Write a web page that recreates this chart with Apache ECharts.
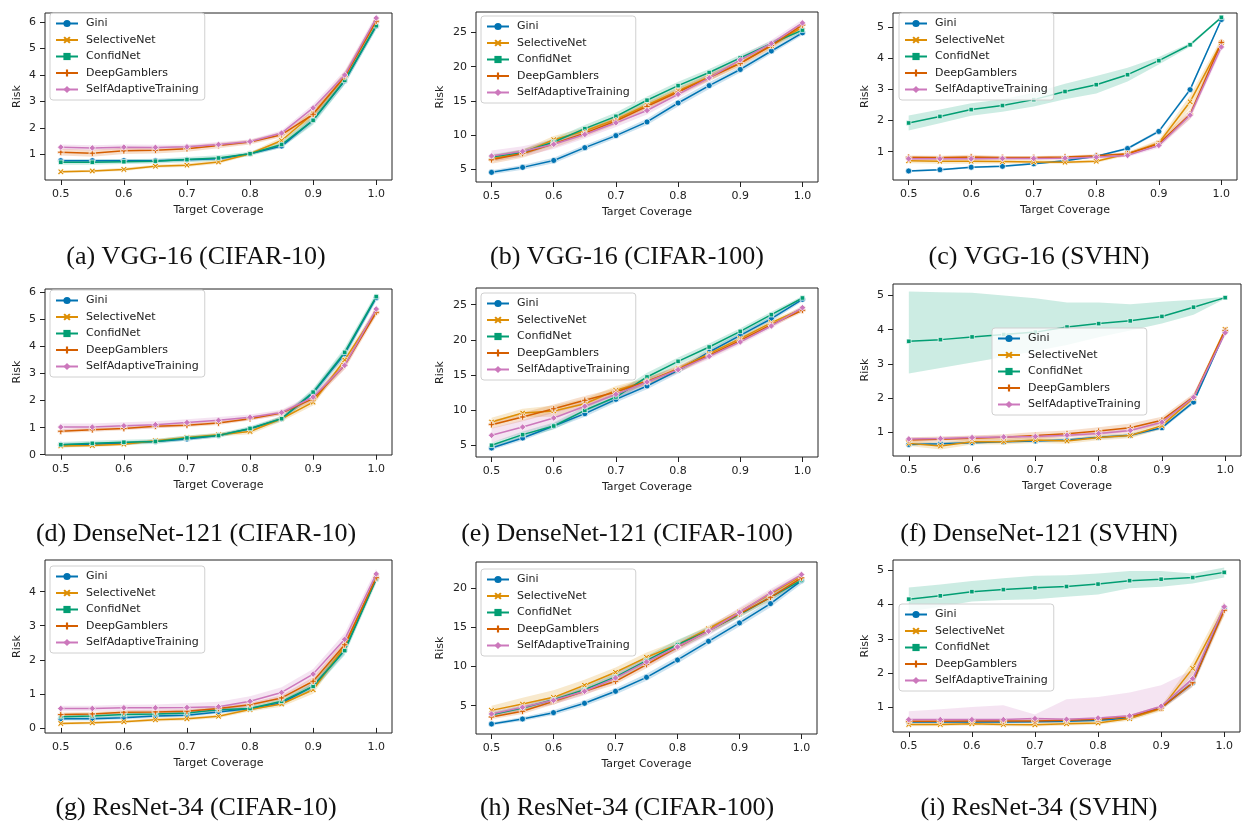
<!DOCTYPE html>
<html>
<head>
<meta charset="utf-8">
<script src="https://cdn.jsdelivr.net/npm/echarts@6/dist/echarts.min.js"></script>
<style>
  html, body { margin: 0; padding: 0; background: #fff; }
  #myChart { width: 1245px; height: 827px; }
</style>
</head>
<body>
<div id="myChart"></div>
<script>
// x values shared by every panel
var coverage = [0.5, 0.55, 0.6, 0.65, 0.7, 0.75, 0.8, 0.85, 0.9, 0.95, 1.0];
var xTicks = [0.5, 0.6, 0.7, 0.8, 0.9, 1.0];
var methods = ['Gini', 'SelectiveNet', 'ConfidNet', 'DeepGamblers', 'SelfAdaptiveTraining'];
var captions = [
    '(a) VGG-16 (CIFAR-10)', '(b) VGG-16 (CIFAR-100)', '(c) VGG-16 (SVHN)',
    '(d) DenseNet-121 (CIFAR-10)', '(e) DenseNet-121 (CIFAR-100)', '(f) DenseNet-121 (SVHN)',
    '(g) ResNet-34 (CIFAR-10)', '(h) ResNet-34 (CIFAR-100)', '(i) ResNet-34 (SVHN)'
];

// risk per panel, rows in the order of methods
var riskA = [
    [0.77, 0.77, 0.77, 0.77, 0.8, 0.84, 1.03, 1.32, 2.3, 3.78, 5.85],
    [0.35, 0.38, 0.44, 0.56, 0.6, 0.72, 1.03, 1.53, 2.54, 3.94, 6.06],
    [0.71, 0.71, 0.73, 0.75, 0.81, 0.87, 1.03, 1.38, 2.29, 3.8, 5.86],
    [1.09, 1.05, 1.14, 1.16, 1.22, 1.34, 1.47, 1.75, 2.52, 3.94, 6.03],
    [1.28, 1.25, 1.28, 1.27, 1.29, 1.38, 1.49, 1.81, 2.76, 4.0, 6.15]
];
var riskB = [
    [4.56, 5.29, 6.3, 8.17, 9.93, 11.93, 14.7, 17.24, 19.6, 22.3, 24.95],
    [6.56, 7.4, 9.34, 10.6, 12.3, 14.4, 16.5, 18.5, 20.56, 23.1, 25.8],
    [6.8, 7.5, 9.0, 10.95, 12.75, 15.1, 17.24, 19.15, 21.3, 23.4, 25.35],
    [6.4, 7.3, 8.75, 10.3, 12.07, 14.2, 16.3, 18.4, 20.5, 23.1, 26.1],
    [6.95, 7.63, 8.66, 10.1, 11.8, 13.6, 15.97, 18.37, 21.0, 23.4, 26.4]
];
var riskC = [
    [0.38, 0.42, 0.5, 0.53, 0.61, 0.71, 0.85, 1.1, 1.65, 2.99, 5.24],
    [0.71, 0.69, 0.69, 0.68, 0.67, 0.66, 0.69, 0.93, 1.28, 2.6, 4.49],
    [1.92, 2.13, 2.35, 2.48, 2.67, 2.93, 3.15, 3.47, 3.92, 4.43, 5.31],
    [0.82, 0.81, 0.83, 0.81, 0.81, 0.83, 0.87, 0.93, 1.25, 2.2, 4.5],
    [0.77, 0.77, 0.77, 0.78, 0.78, 0.79, 0.82, 0.88, 1.2, 2.17, 4.36]
];
var riskD = [
    [0.37, 0.39, 0.43, 0.49, 0.58, 0.71, 0.96, 1.33, 2.28, 3.73, 5.8],
    [0.32, 0.34, 0.39, 0.52, 0.64, 0.74, 0.86, 1.33, 1.94, 3.5, 5.29],
    [0.37, 0.42, 0.46, 0.49, 0.62, 0.71, 0.97, 1.33, 2.31, 3.78, 5.84],
    [0.87, 0.92, 0.97, 1.05, 1.09, 1.17, 1.33, 1.54, 2.07, 3.3, 5.26],
    [1.02, 1.02, 1.07, 1.11, 1.19, 1.27, 1.38, 1.56, 2.13, 3.3, 5.38]
];
var riskE = [
    [4.62, 6.04, 7.75, 9.5, 11.54, 13.44, 15.66, 18.27, 20.64, 23.0, 25.76],
    [8.32, 9.6, 9.88, 10.92, 12.82, 14.1, 15.9, 18.03, 20.17, 22.44, 24.43],
    [5.0, 6.52, 7.75, 9.98, 11.87, 14.72, 16.94, 18.98, 21.2, 23.58, 25.95],
    [7.94, 9.03, 10.2, 11.4, 12.58, 14.1, 15.8, 17.8, 19.93, 22.16, 24.2],
    [6.42, 7.6, 8.89, 10.55, 12.25, 14.0, 15.76, 17.65, 19.7, 21.97, 24.57]
];
var riskF = [
    [0.64, 0.66, 0.69, 0.72, 0.74, 0.77, 0.85, 0.91, 1.13, 1.88, 3.95],
    [0.67, 0.59, 0.72, 0.72, 0.77, 0.74, 0.84, 0.9, 1.19, 2.0, 4.01],
    [3.66, 3.71, 3.79, 3.86, 3.93, 4.08, 4.18, 4.26, 4.39, 4.66, 4.94],
    [0.77, 0.79, 0.82, 0.85, 0.9, 0.95, 1.03, 1.13, 1.35, 2.03, 3.98],
    [0.8, 0.81, 0.84, 0.86, 0.87, 0.91, 0.96, 1.05, 1.29, 2.02, 3.91]
];
var riskG = [
    [0.27, 0.27, 0.3, 0.35, 0.37, 0.47, 0.57, 0.73, 1.22, 2.29, 4.39],
    [0.13, 0.15, 0.18, 0.24, 0.27, 0.34, 0.54, 0.7, 1.12, 2.39, 4.41],
    [0.33, 0.35, 0.39, 0.41, 0.44, 0.53, 0.57, 0.78, 1.22, 2.27, 4.37],
    [0.39, 0.41, 0.46, 0.47, 0.49, 0.57, 0.68, 0.88, 1.37, 2.44, 4.41],
    [0.57, 0.57, 0.59, 0.59, 0.6, 0.62, 0.78, 1.04, 1.58, 2.6, 4.52]
];
var riskH = [
    [2.66, 3.3, 4.11, 5.3, 6.83, 8.61, 10.82, 13.2, 15.54, 18.0, 20.94],
    [4.4, 5.2, 6.06, 7.6, 9.25, 11.16, 12.78, 14.8, 16.94, 19.24, 21.5],
    [3.85, 4.7, 5.76, 7.04, 8.65, 10.74, 12.78, 14.56, 16.6, 18.8, 21.0],
    [3.56, 4.28, 5.55, 6.83, 8.1, 10.23, 12.44, 14.56, 16.7, 18.8, 21.28],
    [3.94, 4.79, 5.68, 6.83, 8.53, 10.57, 12.48, 14.48, 16.9, 19.36, 21.7]
];
var riskI = [
    [0.58, 0.58, 0.58, 0.58, 0.59, 0.6, 0.63, 0.7, 1.0, 1.72, 3.9],
    [0.51, 0.51, 0.53, 0.51, 0.5, 0.53, 0.55, 0.68, 0.97, 2.14, 3.88],
    [4.15, 4.25, 4.37, 4.43, 4.48, 4.52, 4.59, 4.69, 4.73, 4.78, 4.93],
    [0.6, 0.6, 0.61, 0.61, 0.61, 0.63, 0.66, 0.73, 0.99, 1.72, 3.83],
    [0.65, 0.65, 0.65, 0.65, 0.68, 0.66, 0.7, 0.76, 1.04, 1.84, 3.93]
];

// half width of the shaded band, same layout as the risk arrays
var spreadA = [
    [0.06, 0.06, 0.06, 0.06, 0.06, 0.06, 0.05, 0.07, 0.12, 0.14, 0.12],
    [0.05, 0.05, 0.06, 0.06, 0.07, 0.07, 0.06, 0.12, 0.17, 0.17, 0.14],
    [0.09, 0.09, 0.09, 0.09, 0.1, 0.1, 0.08, 0.12, 0.17, 0.17, 0.14],
    [0.13, 0.13, 0.12, 0.12, 0.11, 0.1, 0.09, 0.1, 0.14, 0.17, 0.14],
    [0.1, 0.1, 0.1, 0.1, 0.09, 0.09, 0.08, 0.1, 0.14, 0.17, 0.14]
];
var spreadB = [
    [0.3, 0.35, 0.4, 0.4, 0.4, 0.45, 0.5, 0.5, 0.45, 0.4, 0.35],
    [0.5, 0.5, 0.55, 0.5, 0.5, 0.5, 0.5, 0.5, 0.45, 0.45, 0.45],
    [0.4, 0.4, 0.5, 0.55, 0.55, 0.55, 0.55, 0.5, 0.45, 0.4, 0.35],
    [0.6, 0.6, 0.6, 0.55, 0.55, 0.55, 0.5, 0.5, 0.45, 0.45, 0.4],
    [0.8, 0.75, 0.7, 0.6, 0.6, 0.6, 0.55, 0.5, 0.5, 0.5, 0.5]
];
var spreadC = [
    [0.03, 0.03, 0.03, 0.03, 0.03, 0.03, 0.03, 0.04, 0.05, 0.06, 0.05],
    [0.08, 0.08, 0.08, 0.06, 0.06, 0.05, 0.05, 0.06, 0.1, 0.2, 0.15],
    [0.24, 0.22, 0.2, 0.2, 0.22, 0.25, 0.28, 0.22, 0.12, 0.06, 0.03],
    [0.06, 0.06, 0.07, 0.05, 0.05, 0.05, 0.05, 0.05, 0.08, 0.15, 0.12],
    [0.05, 0.05, 0.05, 0.05, 0.05, 0.05, 0.05, 0.05, 0.08, 0.12, 0.12]
];
var spreadD = [
    [0.06, 0.06, 0.06, 0.06, 0.06, 0.06, 0.06, 0.07, 0.12, 0.14, 0.12],
    [0.05, 0.05, 0.06, 0.06, 0.07, 0.07, 0.1, 0.1, 0.12, 0.14, 0.14],
    [0.1, 0.1, 0.09, 0.09, 0.09, 0.08, 0.08, 0.1, 0.14, 0.17, 0.14],
    [0.07, 0.07, 0.07, 0.07, 0.07, 0.07, 0.07, 0.08, 0.12, 0.14, 0.14],
    [0.13, 0.13, 0.13, 0.13, 0.12, 0.12, 0.11, 0.1, 0.12, 0.14, 0.14]
];
var spreadE = [
    [0.3, 0.35, 0.4, 0.45, 0.45, 0.45, 0.45, 0.4, 0.4, 0.35, 0.3],
    [0.6, 0.6, 0.8, 0.7, 0.6, 0.5, 0.45, 0.4, 0.4, 0.35, 0.3],
    [0.4, 0.45, 0.5, 0.55, 0.6, 0.6, 0.55, 0.5, 0.45, 0.4, 0.3],
    [0.6, 0.6, 0.6, 0.6, 0.55, 0.5, 0.45, 0.4, 0.4, 0.35, 0.3],
    [1.0, 1.0, 0.9, 0.7, 0.6, 0.5, 0.45, 0.4, 0.4, 0.35, 0.3]
];
var spreadF = [
    [0.04, 0.04, 0.04, 0.04, 0.04, 0.04, 0.05, 0.05, 0.05, 0.06, 0.06],
    [0.08, 0.1, 0.08, 0.08, 0.09, 0.08, 0.08, 0.08, 0.1, 0.1, 0.08],
    [0, 0, 0, 0, 0, 0, 0, 0, 0, 0, 0],
    [0.08, 0.08, 0.08, 0.09, 0.1, 0.1, 0.11, 0.12, 0.1, 0.1, 0.08],
    [0.05, 0.05, 0.05, 0.05, 0.05, 0.05, 0.05, 0.06, 0.07, 0.08, 0.08]
];
var spreadG = [
    [0.05, 0.05, 0.05, 0.05, 0.05, 0.05, 0.05, 0.06, 0.1, 0.12, 0.1],
    [0.04, 0.04, 0.04, 0.05, 0.05, 0.05, 0.06, 0.08, 0.12, 0.12, 0.1],
    [0.08, 0.08, 0.08, 0.08, 0.08, 0.07, 0.07, 0.08, 0.12, 0.14, 0.12],
    [0.06, 0.06, 0.06, 0.06, 0.06, 0.06, 0.06, 0.08, 0.12, 0.14, 0.12],
    [0.08, 0.08, 0.09, 0.1, 0.12, 0.15, 0.15, 0.15, 0.15, 0.18, 0.15]
];
var spreadH = [
    [0.2, 0.25, 0.3, 0.35, 0.4, 0.45, 0.45, 0.45, 0.45, 0.45, 0.45],
    [0.6, 0.8, 0.9, 0.7, 0.6, 0.6, 0.5, 0.4, 0.4, 0.4, 0.35],
    [0.3, 0.3, 0.35, 0.4, 0.5, 0.6, 0.6, 0.5, 0.4, 0.4, 0.35],
    [0.3, 0.35, 0.4, 0.4, 0.4, 0.45, 0.45, 0.4, 0.4, 0.4, 0.35],
    [0.4, 0.45, 0.5, 0.5, 0.5, 0.55, 0.55, 0.55, 0.6, 0.5, 0.4]
];
var spreadI = [
    [0.04, 0.04, 0.04, 0.04, 0.04, 0.04, 0.04, 0.05, 0.06, 0.1, 0.15],
    [0.05, 0.05, 0.05, 0.05, 0.05, 0.05, 0.05, 0.06, 0.08, 0.2, 0.2],
    [0, 0, 0, 0, 0, 0, 0, 0, 0, 0, 0],
    [0.05, 0.05, 0.05, 0.05, 0.05, 0.05, 0.05, 0.06, 0.07, 0.12, 0.15],
    [0, 0, 0, 0, 0, 0, 0, 0, 0, 0, 0]
];

// asymmetric bands, lower and upper edge
var confidLoF = [2.72, 2.88, 3.04, 3.2, 3.38, 3.55, 3.78, 3.98, 4.18, 4.44, 4.91];
var confidHiF = [5.12, 5.1, 5.08, 5.0, 4.92, 4.8, 4.8, 4.75, 4.82, 4.88, 4.97];
var confidLoI = [3.79, 3.93, 4.08, 4.13, 4.15, 4.22, 4.29, 4.47, 4.51, 4.61, 4.78];
var confidHiI = [4.49, 4.58, 4.68, 4.76, 4.83, 4.85, 4.9, 4.97, 4.97, 4.9, 5.07];
var satLoI = [0.6, 0.6, 0.6, 0.6, 0.62, 0.6, 0.64, 0.7, 0.95, 1.65, 3.8];
var satHiI = [0.89, 0.95, 1.02, 1.07, 0.8, 1.24, 1.31, 1.44, 1.65, 2.09, 4.05];

// y axis ranges and ticks per panel
var yMin = [0.04, 3.15, 0.09, -0.01, 3.34, 0.30, -0.15, 1.39, 0.29];
var yMax = [6.34, 28.0, 5.45, 6.12, 27.37, 5.34, 4.93, 23.3, 5.29];
var yTicks = [
    [1, 2, 3, 4, 5, 6], [5, 10, 15, 20, 25], [1, 2, 3, 4, 5],
    [0, 1, 2, 3, 4, 5, 6], [5, 10, 15, 20, 25], [1, 2, 3, 4, 5],
    [0, 1, 2, 3, 4], [5, 10, 15, 20], [1, 2, 3, 4, 5]
];

var riskAll = [riskA, riskB, riskC, riskD, riskE, riskF, riskG, riskH, riskI];
var spreadAll = [spreadA, spreadB, spreadC, spreadD, spreadE, spreadF, spreadG, spreadH, spreadI];
var bandOverride = {
    '5_2': [confidLoF, confidHiF],
    '8_2': [confidLoI, confidHiI],
    '8_4': [satLoI, satHiI]
};

// layout
var colors = ['#0173b2', '#de8f05', '#029e73', '#d55e00', '#cc78bc'];
var symbols = [
    'circle',
    'path://M2,0 L5,3 L8,0 L10,2 L7,5 L10,8 L8,10 L5,7 L2,10 L0,8 L3,5 L0,2 Z',
    'rect',
    'path://M3.5,0 H6.5 V3.5 H10 V6.5 H6.5 V10 H3.5 V6.5 H0 V3.5 H3.5 Z',
    'diamond'
];
var symbolSizes = [6, 6, 4.5, 6.5, 6.5];
var grids = [
    {left: 45, top: 13, width: 347, height: 167},
    {left: 476, top: 12, width: 342, height: 170},
    {left: 893, top: 13, width: 344, height: 167},
    {left: 45, top: 289, width: 347, height: 166},
    {left: 476, top: 288, width: 342, height: 169},
    {left: 893, top: 284, width: 348, height: 172},
    {left: 45, top: 560, width: 347, height: 173},
    {left: 476, top: 562, width: 341, height: 172},
    {left: 893, top: 560, width: 347, height: 172}
];
var legendPos = [
    [50, 13], [481, 16], [899, 13],
    [50, 290], [481, 293], [992, 328],
    [50, 566], [481, 569], [899, 604]
];
var yNameGap = [22, 30, 22, 22, 30, 22, 22, 30, 22];
var captionX = [196, 627, 1039];
var captionY = [257, 534, 808];

var font = 'DejaVu Sans';
var ink = '#222';

// band polygon drawn through the axis scale of its grid
function bandRenderer(lo, hi) {
    return function (params, api) {
        if (params.dataIndex !== 0) return null;
        var pts = [];
        for (var i = 0; i < coverage.length; i++) pts.push(api.coord([coverage[i], hi[i]]));
        for (var j = coverage.length - 1; j >= 0; j--) pts.push(api.coord([coverage[j], lo[j]]));
        return {
            type: 'polygon',
            shape: {points: pts},
            style: {fill: api.visual('color'), opacity: 0.2}
        };
    };
}

var gridList = [], xAxes = [], yAxes = [], legends = [], series = [], graphics = [];

for (var p = 0; p < 9; p++) {
    gridList.push(Object.assign({
        show: true, borderColor: ink, borderWidth: 1, backgroundColor: 'transparent', containLabel: false
    }, grids[p]));

    xAxes.push({
        type: 'value', gridIndex: p, min: 0.475, max: 1.025,
        name: 'Target Coverage', nameLocation: 'middle', nameGap: 25,
        nameTextStyle: {fontFamily: font, fontSize: 11, color: ink},
        axisLine: {show: false},
        splitLine: {show: false},
        axisTick: {show: true, length: 5, customValues: xTicks, lineStyle: {color: ink}},
        axisLabel: {
            customValues: xTicks, margin: 9, fontFamily: font, fontSize: 11, color: ink,
            formatter: function (v) { return v.toFixed(1); }
        }
    });

    yAxes.push({
        type: 'value', gridIndex: p, min: yMin[p], max: yMax[p],
        name: 'Risk', nameLocation: 'middle', nameGap: yNameGap[p],
        nameTextStyle: {fontFamily: font, fontSize: 11, color: ink},
        axisLine: {show: false},
        splitLine: {show: false},
        axisTick: {show: true, length: 5, customValues: yTicks[p], lineStyle: {color: ink}},
        axisLabel: {
            customValues: yTicks[p], margin: 9, fontFamily: font, fontSize: 11, color: ink,
            formatter: function (v) { return String(Math.round(v)); }
        }
    });

    legends.push({
        data: methods, orient: 'vertical', z: 30,
        left: legendPos[p][0], top: legendPos[p][1],
        itemWidth: 22, itemHeight: 9, itemGap: 3.5,
        padding: [4, 6, 4, 5],
        backgroundColor: 'rgba(255,255,255,0.8)',
        borderColor: '#d0d0d0', borderWidth: 1, borderRadius: 3,
        itemStyle: {borderWidth: 0},
        textStyle: {fontFamily: font, fontSize: 11, color: ink, lineHeight: 13, padding: [0, 0, 0, 3]},
        selectedMode: false
    });

    var risk = riskAll[p];
    var spread = spreadAll[p];

    // shaded bands
    for (var m = 0; m < 5; m++) {
        var key = p + '_' + m;
        var lo, hi;
        if (bandOverride[key]) {
            lo = bandOverride[key][0];
            hi = bandOverride[key][1];
        } else {
            lo = risk[m].map(function (v, i) { return v - spread[m][i]; });
            hi = risk[m].map(function (v, i) { return v + spread[m][i]; });
        }
        series.push({
            type: 'custom', xAxisIndex: p, yAxisIndex: p,
            data: coverage.map(function (x, i) { return [x, lo[i], hi[i]]; }),
            encode: {x: 0, y: [1, 2]},
            renderItem: bandRenderer(lo, hi),
            itemStyle: {color: colors[m]},
            silent: true, z: 1, clip: true
        });
    }

    // mean lines with markers
    for (var m2 = 0; m2 < 5; m2++) {
        series.push({
            name: methods[m2], type: 'line', xAxisIndex: p, yAxisIndex: p,
            data: coverage.map(function (x, i) { return [x, risk[m2][i]]; }),
            symbol: symbols[m2], symbolSize: symbolSizes[m2],
            lineStyle: {color: colors[m2], width: 1.5},
            itemStyle: {color: colors[m2], borderColor: '#fff', borderWidth: 0.7},
            z: 3 + m2
        });
    }

    graphics.push({
        type: 'text',
        style: {
            text: captions[p],
            x: captionX[p % 3], y: captionY[Math.floor(p / 3)],
            textAlign: 'center', textVerticalAlign: 'middle',
            font: '26px "Liberation Serif", serif', fill: '#111'
        }
    });
}

var myChart = echarts.init(document.getElementById('myChart'));
var option = {
    animation: false,
    backgroundColor: '#fff',
    grid: gridList,
    xAxis: xAxes,
    yAxis: yAxes,
    legend: legends,
    series: series,
    graphic: graphics
};
myChart.setOption(option);
</script>
</body>
</html>
